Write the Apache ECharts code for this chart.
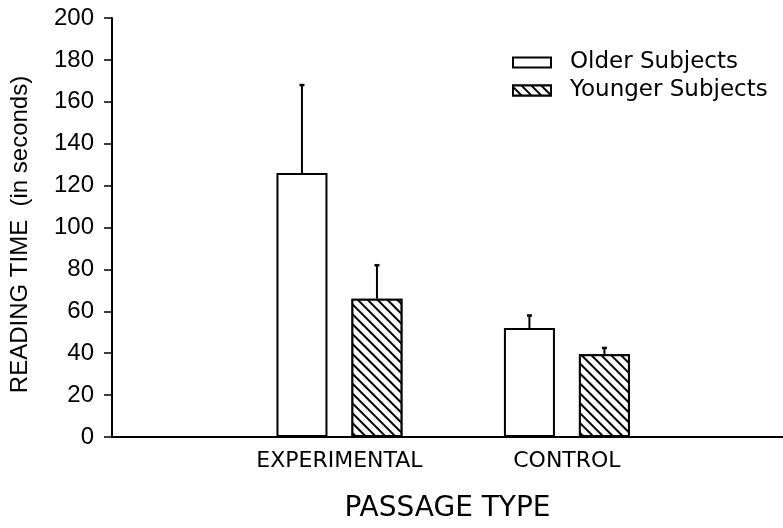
<!DOCTYPE html>
<html><head><meta charset="utf-8">
<script src="https://cdn.jsdelivr.net/npm/echarts@6/dist/echarts.min.js"></script>
<style>html,body{margin:0;padding:0;background:#fff}#c{width:783px;height:528px}</style>
</head><body><div id="c"></div>
<script>
var categories = ['EXPERIMENTAL', 'CONTROL'];
var categoryPos = [1, 2];
var olderMeans = [126, 52];
var olderErrTop = [168, 58];
var youngerMeans = [66, 39.5];
var youngerErrTop = [82, 42.5];
var yTicks = [0, 20, 40, 60, 80, 100, 120, 140, 160, 180, 200];

var FONT = 'Liberation Sans';
var WIDE = 'DejaVu Sans';
var BAR_W = 51, HALF_OFF = 37.5;

function errSeries(name, means, tops, off) {
  return {
    type: 'custom', name: name + ' err', silent: true, z: 5,
    data: categoryPos.map(function (p, i) { return [p, means[i], tops[i]]; }),
    renderItem: function (params, api) {
      var b = api.coord([api.value(0), api.value(1)]);
      var t = api.coord([api.value(0), api.value(2)]);
      var x = b[0] + off;
      return { type: 'group', children: [
        { type: 'line', shape: { x1: x, y1: b[1], x2: x, y2: t[1] }, style: { stroke: '#000', lineWidth: 2 } },
        { type: 'line', shape: { x1: x - 2.5, y1: t[1], x2: x + 2.5, y2: t[1] }, style: { stroke: '#000', lineWidth: 2.5 } }
      ]};
    }
  };
}

var chart = echarts.init(document.getElementById('c'), null, { renderer: 'canvas' });
chart.setOption({
  animation: false,
  backgroundColor: '#fff',
  grid: { left: 108, right: 0, top: 18, bottom: 89, containLabel: false },
  legend: {
    orient: 'vertical', left: 507, top: 46, itemWidth: 38, itemHeight: 10, itemGap: 5,
    icon: 'rect',
    textStyle: { fontFamily: WIDE, fontSize: 23, color: '#000', padding: [0, 0, 0, 14] },
    data: ['Older Subjects', 'Younger Subjects']
  },
  xAxis: {
    type: 'value', min: 0, max: 2.95, interval: 1,
    axisLine: { show: true, lineStyle: { color: '#000', width: 2 } },
    axisTick: { show: false }, splitLine: { show: false },
    axisLabel: {
      margin: 13, fontFamily: WIDE, fontSize: 22, color: '#000',
      showMaxLabel: false, showMinLabel: false,
      formatter: function (v) { var i = categoryPos.indexOf(v); return i >= 0 ? categories[i] : ''; }
    },
    name: 'PASSAGE TYPE', nameLocation: 'middle', nameGap: 58,
    nameTextStyle: { fontFamily: WIDE, fontSize: 28, color: '#000' }
  },
  yAxis: {
    type: 'value', min: yTicks[0], max: yTicks[yTicks.length - 1], interval: 20,
    axisLine: { show: true, lineStyle: { color: '#000', width: 2 } },
    axisTick: { show: true, length: 8, lineStyle: { color: '#000', width: 1.5 } },
    splitLine: { show: false },
    axisLabel: { margin: 18, fontFamily: FONT, fontSize: 24, color: '#000' },
    name: 'READING TIME  (in seconds)', nameLocation: 'middle', nameGap: 80,
    nameTextStyle: { fontFamily: FONT, fontSize: 24, color: '#000', padding: [0, 14, 0, 0] }
  },
  series: [
    {
      type: 'bar', name: 'Older Subjects', barWidth: BAR_W, barGap: '47%',
      data: categoryPos.map(function (p, i) { return [p, olderMeans[i]]; }),
      itemStyle: { color: '#fff', borderColor: '#000', borderWidth: 2 }
    },
    {
      type: 'bar', name: 'Younger Subjects', barWidth: BAR_W, barGap: '47%',
      data: categoryPos.map(function (p, i) { return [p, youngerMeans[i]]; }),
      itemStyle: {
        color: '#fff', borderColor: '#000', borderWidth: 2,
        decal: { symbol: 'rect', symbolSize: 1, color: '#000', backgroundColor: '#fff',
                 dashArrayX: [1, 0], dashArrayY: [2, 5], rotation: Math.PI / 4 }
      }
    },
    errSeries('Older Subjects', olderMeans, olderErrTop, -HALF_OFF),
    errSeries('Younger Subjects', youngerMeans, youngerErrTop, HALF_OFF)
  ]
});
</script></body></html>
